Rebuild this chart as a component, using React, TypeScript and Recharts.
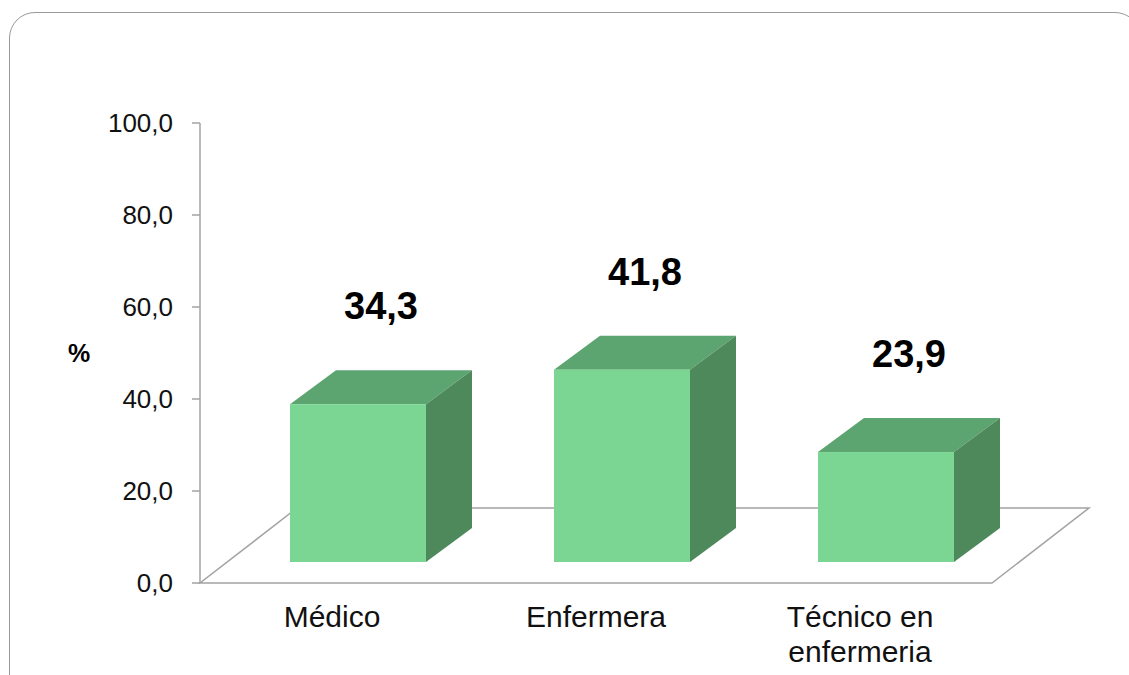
import { BarChart, Bar, XAxis, YAxis, ReferenceArea, LabelList } from 'recharts';

// Distribución del personal por profesión (%)
const categories = ['Médico', 'Enfermera', 'Técnico en enfermeria'];
const percentages = [34.3, 41.8, 23.9];
const yTicks = [0, 20, 40, 60, 80, 100];

const data = categories.map((name, i) => ({ name, value: percentages[i] }));

const FONT = '"Liberation Sans", Arial, sans-serif';
const FRONT = '#7bd694';
const TOP = '#5ca571';
const SIDE = '#4e895b';
const AXIS = '#a3a3a3';

// 3D look: floor depth, bar inset from the floor front edge, bar depth
const FLOOR_DX = 97;
const FLOOR_DY = 75;
const INSET_DX = 26;
const INSET_DY = 21;
const DEPTH_DX = 46;
const DEPTH_DY = 34;

const fmt = (v: number) => v.toFixed(1).replace('.', ',');

function wrapWords(label: string, maxChars: number) {
  const lines: string[] = [];
  let cur = '';
  for (const w of label.split(' ')) {
    const next = cur ? cur + ' ' + w : w;
    if (next.length > maxChars && cur) {
      lines.push(cur);
      cur = w;
    } else {
      cur = next;
    }
  }
  if (cur) lines.push(cur);
  return lines;
}

function Floor(props: any) {
  const { x, y, width, height } = props;
  const by = y + height;
  const pts = [
    [x, by],
    [x + width, by],
    [x + width + FLOOR_DX, by - FLOOR_DY],
    [x + FLOOR_DX, by - FLOOR_DY],
  ];
  return (
    <polygon
      points={pts.map((p) => p.join(',')).join(' ')}
      fill="none"
      stroke={AXIS}
      strokeWidth={1.5}
    />
  );
}

function Box(props: any) {
  const { x, y, width, height } = props;
  const fx = x + INSET_DX;
  const fy = y - INSET_DY;
  const w = width;
  const h = height;
  const top = `${fx},${fy} ${fx + w},${fy} ${fx + w + DEPTH_DX},${fy - DEPTH_DY} ${fx + DEPTH_DX},${fy - DEPTH_DY}`;
  const side = `${fx + w},${fy} ${fx + w + DEPTH_DX},${fy - DEPTH_DY} ${fx + w + DEPTH_DX},${fy + h - DEPTH_DY} ${fx + w},${fy + h}`;
  return (
    <g>
      <polygon points={top} fill={TOP} />
      <polygon points={side} fill={SIDE} />
      <rect x={fx} y={fy} width={w} height={h} fill={FRONT} />
    </g>
  );
}

function ValueLabel(props: any) {
  const { x, y, width, value } = props;
  const cx = x + INSET_DX + width / 2 + DEPTH_DX / 2;
  const by = y - INSET_DY - DEPTH_DY - 51;
  return (
    <text x={cx} y={by} textAnchor="middle" fontSize={38} fontWeight="bold" fontFamily={FONT} fill="#000">
      {fmt(Number(value))}
    </text>
  );
}

function CategoryTick(props: any) {
  const { x, y, payload } = props;
  const lines = wrapWords(String(payload.value), 12);
  return (
    <text x={x} y={y + 44} textAnchor="middle" fontSize={30} fontFamily={FONT} fill="#111">
      {lines.map((l, i) => (
        <tspan key={i} x={x} dy={i === 0 ? 0 : 35}>
          {l}
        </tspan>
      ))}
    </text>
  );
}

export default function App() {
  return (
    <div
      style={{
        position: 'absolute',
        left: 0,
        top: 0,
        width: 1129,
        height: 675,
        overflow: 'hidden',
        background: '#fff',
      }}
    >
      <div
        style={{
          position: 'absolute',
          left: 9,
          top: 12,
          width: 1130,
          height: 720,
          border: '1.5px solid #999',
          borderRadius: 26,
        }}
      />
      <div style={{ position: 'absolute', left: 0, top: 0 }}>
        <BarChart
          width={1129}
          height={675}
          data={data}
          margin={{ top: 123, right: 137, bottom: 32, left: 60 }}
          style={{ fontFamily: FONT }}
        >
          <XAxis
            dataKey="name"
            height={60}
            axisLine={false}
            tickLine={false}
            tickSize={0}
            tickMargin={0}
            interval={0}
            tick={<CategoryTick />}
          />
          <YAxis
            width={140}
            domain={[0, 100]}
            ticks={yTicks}
            interval={0}
            tickFormatter={fmt}
            axisLine={{ stroke: AXIS, strokeWidth: 1.5 }}
            tickLine={{ stroke: AXIS, strokeWidth: 1.5 }}
            tickSize={8}
            tickMargin={19}
            tick={{ fontSize: 26, fill: '#111', fontFamily: FONT }}
            label={{
              value: '%',
              position: 'insideLeft',
              offset: 8,
              fontSize: 25,
              fontWeight: 'bold',
              fill: '#000',
            }}
          />
          <ReferenceArea y1={0} y2={100} shape={<Floor />} />
          <Bar dataKey="value" barSize={136} shape={<Box />} isAnimationActive={false}>
            <LabelList dataKey="value" content={<ValueLabel />} />
          </Bar>
        </BarChart>
      </div>
    </div>
  );
}
